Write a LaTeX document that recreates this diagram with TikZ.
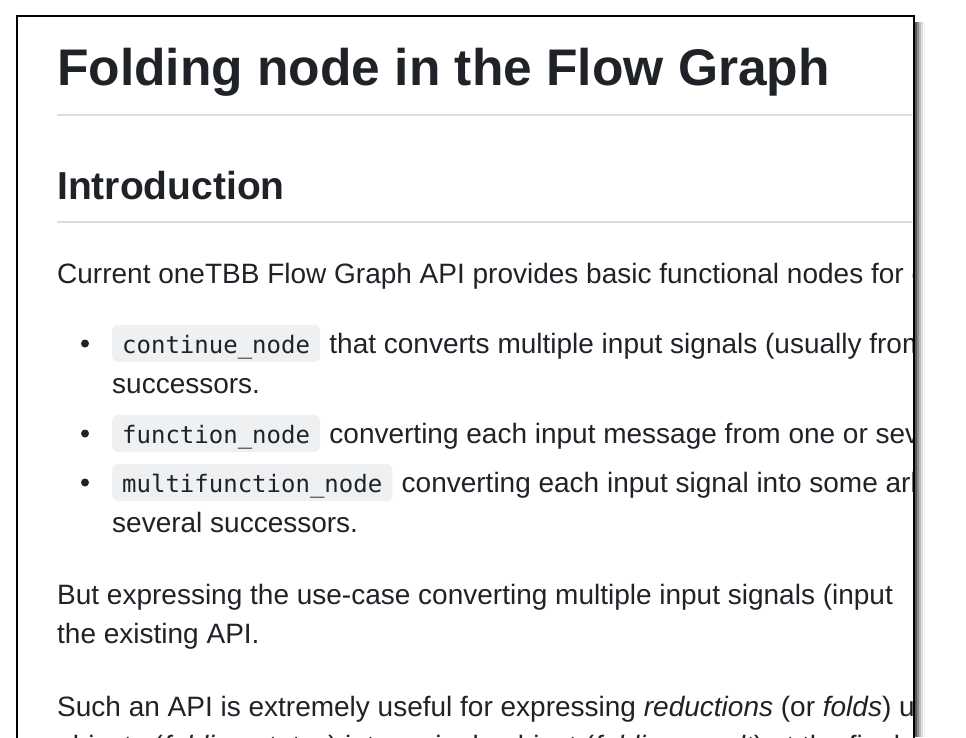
\documentclass[tikz,border=0pt]{standalone}
\usepackage{fontspec}
\setmainfont{Liberation Sans}
\setmonofont{DejaVu Sans Mono}
\usetikzlibrary{positioning,calc}
\definecolor{ghtext}{HTML}{1F2328}
\definecolor{ghrule}{HTML}{D8DEE4}
\definecolor{ghcode}{HTML}{EEF0F2}
\tikzset{
  ptext/.style={anchor=base west,inner sep=0pt,text=ghtext,font=\fontsize{28}{33}\selectfont},
  htitle/.style={anchor=base west,inner sep=0pt,text=ghtext,font=\fontsize{51.5}{60}\selectfont\bfseries},
  hsub/.style={anchor=base west,inner sep=0pt,text=ghtext,font=\fontsize{39}{46}\selectfont\bfseries},
  codebox/.style={anchor=base west,fill=ghcode,rounded corners=6pt,inner xsep=10pt,inner ysep=0pt,
    text height=28pt,text depth=9pt,text=ghtext,font=\fontsize{24}{28}\selectfont\ttfamily},
  ghrulestyle/.style={draw=ghrule,line width=2pt}
}

\begin{document}
\begin{tikzpicture}[x=1pt,y=-1pt]
    \useasboundingbox (0,0) rectangle (966,737);
    % shadow on the right of the page
    \foreach \d/\o in {1/0.45,3/0.35,5/0.25,7/0.16,9/0.09,11/0.04}
      \fill[black,opacity=\o] (914,22) rectangle (914+\d,737);
    \fill[white] (17,16) rectangle (914,737);
    \begin{scope}
    \clip (18,17) rectangle (912,737);
    \node[htitle] (title) at (57,85) {Folding node in the Flow Graph};
    \draw[ghrulestyle] (57,115) -- (914,115);
    \node[hsub] (intro) at (57,199) {Introduction};
    \draw[ghrulestyle] (57,222) -- (914,222);
    \node[ptext] (para1) at (57,283) {Current oneTBB Flow Graph API provides basic functional nodes for e};
    % bullet list
    \node[codebox] (code1) at (112,353) {continue\_node};
    \node[ptext] (item1) at ($(code1.base east)+(9,0)$) {that converts multiple input signals (usually from};
    \node[ptext] (item1b) at (112,393) {successors.};
    \node[codebox] (code2) at (112,443) {function\_node};
    \node[ptext] (item2) at ($(code2.base east)+(9,0)$) {converting each input message from one or several};
    \node[codebox] (code3) at (112,492) {multifunction\_node};
    \node[ptext] (item3) at ($(code3.base east)+(9,0)$) {converting each input signal into some arbitrary};
    \node[ptext] (item3b) at (112,532) {several successors.};
    \foreach \c in {code1,code2,code3}
      \fill[ghtext] ($(\c.west)+(-27,0)$) circle (4);
    \node[ptext] (para2) at (57,604) {But expressing the use-case converting multiple input signals (input};
    \node[ptext] (para2b) at (57,643) {the existing API.};
    \node[ptext] (para3) at (57,716) {Such an API is extremely useful for expressing \textit{reductions} (or \textit{folds}) using};
    \node[ptext] (para3b) at (57,755) {objects (\textit{folding states}) into a single object (\textit{folding result}) at the final};
    \end{scope}
    %\draw (17,16) rectangle (914,737);
    \draw[black,line width=1.5pt] (17,740) -- (17,16) -- (914,16) -- (914,740);
\end{tikzpicture}
\end{document}
